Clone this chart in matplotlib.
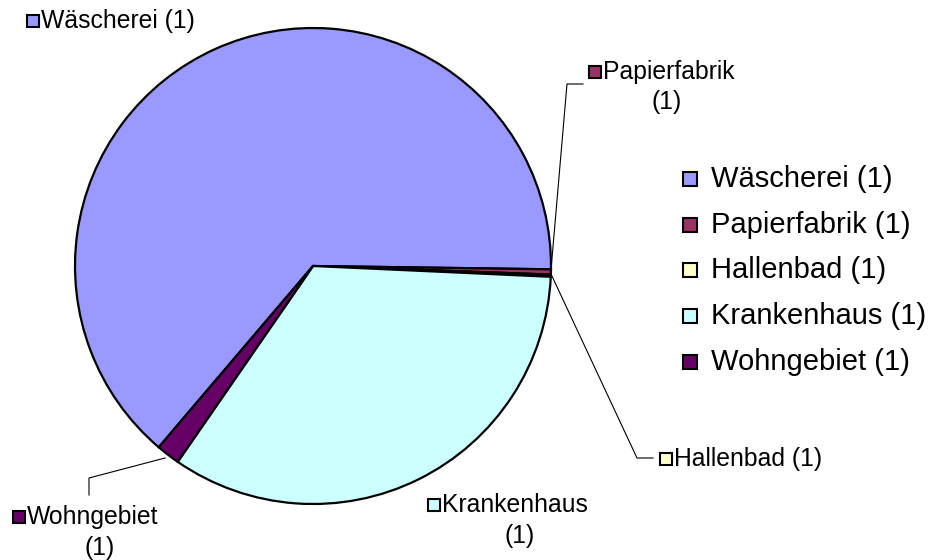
import matplotlib
matplotlib.use("Agg")
import matplotlib.pyplot as plt
from matplotlib.patches import Rectangle

plt.rcParams['font.family'] = ['Liberation Sans', 'DejaVu Sans']

categories = ["Wäscherei", "Papierfabrik", "Hallenbad", "Krankenhaus", "Wohngebiet"]
counts = ["(1)", "(1)", "(1)", "(1)", "(1)"]
shares = [64.0, 0.35, 0.15, 33.9, 1.6]
colors = ["#9999FF", "#993366", "#FFFFCC", "#CCFFFF", "#660066"]

W, H = 941, 560
fig = plt.figure(figsize=(W / 100, H / 100), dpi=100)
ax = fig.add_axes([0, 0, 1, 1])

# pie (y axis flipped, so angles go the other way)
cx, cy, r = 313, 266, 238
ax.pie(shares, colors=colors, center=(cx, cy), radius=r,
       startangle=-229.6, counterclock=True, frame=True,
       wedgeprops=dict(edgecolor="black", linewidth=1.6))
ax.set_xlim(0, W)
ax.set_ylim(H, 0)
ax.set_aspect("equal")
ax.axis("off")


def key(x, y, c, s=12):
    ax.add_patch(Rectangle((x, y - s / 2), s, s, facecolor=c, edgecolor="black",
                           linewidth=1.5, zorder=5))


# data labels (x, y of the key, optional second line position)
lab_fs = 17.8
label_pos = {
    "Wäscherei": (27, 21, None),
    "Papierfabrik": (589, 72, (667, 102)),
    "Hallenbad": (660, 459, None),
    "Krankenhaus": (428, 505, (520, 536)),
    "Wohngebiet": (13, 517, (100, 548)),
}
for name, cnt, c in zip(categories, counts, colors):
    x, y, second = label_pos[name]
    key(x, y, c)
    if second is None:
        ax.text(x + 14, y, f"{name} {cnt}", fontsize=lab_fs, va="center", ha="left")
    else:
        ax.text(x + 14, y, name, fontsize=lab_fs, va="center", ha="left")
        ax.text(second[0], second[1], cnt, fontsize=lab_fs, va="center", ha="center")

# leader lines
leaders = [
    ([551, 567, 583], [270, 84, 84]),
    ([551, 637, 653], [274, 458, 458]),
    ([165, 89, 89], [458, 478, 495]),
]
for xs, ys in leaders:
    ax.plot(xs, ys, color="black", linewidth=0.8)

# legend
leg_fs = 21
for i, (name, cnt, c) in enumerate(zip(categories, counts, colors)):
    y = 179 + i * 45.7
    key(683, y, c, s=14)
    ax.text(711, y, f"{name} {cnt}", fontsize=leg_fs, va="center", ha="left")

fig.savefig("out.png", dpi=100)
